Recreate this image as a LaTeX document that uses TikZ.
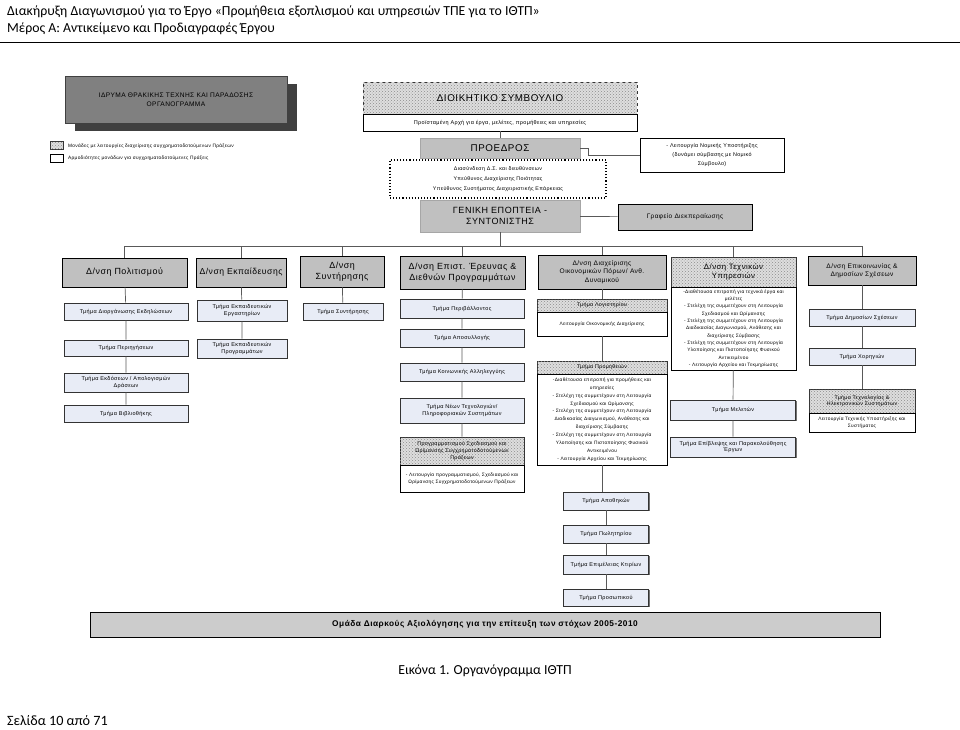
\documentclass[tikz,border=0pt]{standalone}
\usepackage{fontspec}
\setmainfont{Liberation Sans}
\newfontfamily\docfont{Carlito}
\newfontfamily\chartfont[LetterSpace=6]{Liberation Sans}
\usepackage{tikz}
\usetikzlibrary{calc,patterns,shadows}

\definecolor{dirgray}{RGB}{192,192,192}
\definecolor{deptfill}{RGB}{232,236,246}
\definecolor{titlegray}{RGB}{128,128,128}

\tikzset{
  link/.style={draw=black!65, line width=0.7pt},
  sz/.style 2 args={minimum width=#1pt, minimum height=#2pt},
  dirbox/.style={draw=black, line width=0.7pt, fill=dirgray, align=center, inner sep=1pt,
    font=\chartfont\fontsize{8.9}{10.5}\selectfont},
  deptbox/.style={draw=black!80, line width=0.8pt, fill=deptfill, align=center, inner sep=1pt,
    font=\chartfont\fontsize{5.5}{6.8}\selectfont,
    drop shadow={shadow xshift=1.1pt, shadow yshift=-1.1pt, fill=black!55, opacity=1}},
  dotbox/.style={draw=black!80, line width=0.6pt, fill=black!13, align=center, inner sep=1pt,
    postaction={pattern=crosshatch dots, pattern color=black!45},
    font=\chartfont\fontsize{5.3}{6.6}\selectfont},
  notebox/.style={draw=black, line width=0.6pt, fill=white, align=center, inner sep=1pt,
    font=\chartfont\fontsize{4.8}{7.3}\selectfont},
}

\begin{document}
\begin{tikzpicture}[x=1pt,y=-1pt]
\useasboundingbox (0,0) rectangle (960,729);

% page header
\node[anchor=west, inner sep=0, font=\docfont\fontsize{13.8}{15}\selectfont] (hdra) at (7,12)
  {Διακήρυξη Διαγωνισμού για το Έργο «Προμήθεια εξοπλισμού και υπηρεσιών ΤΠΕ για το ΙΘΤΠ»};
\node[anchor=west, inner sep=0, font=\docfont\fontsize{13.8}{15}\selectfont] (hdrb) at (7,29)
  {Μέρος Α: Αντικείμενο και Προδιαγραφές Έργου};
\draw[line width=0.5pt] (0,42) -- (960,42);

% title and legend
\node[draw=black!75, line width=1pt, fill=titlegray, sz={222}{47}, align=center,
  font=\chartfont\fontsize{6.6}{9}\selectfont,
  drop shadow={shadow xshift=10pt, shadow yshift=-8pt, fill=black!75, opacity=1}] (title) at (176,99.5)
  {ΙΔΡΥΜΑ ΘΡΑΚΙΚΗΣ ΤΕΧΝΗΣ ΚΑΙ ΠΑΡΑΔΟΣΗΣ\\ΟΡΓΑΝΟΓΡΑΜΜΑ};
\node[dotbox, sz={13}{8}, inner sep=0] (legdot) at (56.5,145.5) {};
\node[anchor=west, inner sep=0, font=\chartfont\fontsize{4.8}{5}\selectfont] (legdottxt) at (68,146)
  {Μονάδες με λειτουργίες διαχείρισης συγχρηματοδοτούμενων Πράξεων};
\node[notebox, sz={13}{8}, inner sep=0] (legwht) at (56.5,158) {};
\node[anchor=west, inner sep=0, font=\chartfont\fontsize{4.8}{5}\selectfont] (legwhttxt) at (68,158.5)
  {Αρμοδιότητες μονάδων για συγχρηματοδοτούμενες Πράξεις};

% board, president, supervision
\node[dotbox, dashed, sz={274}{32}, font=\chartfont\fontsize{9.8}{11}\selectfont] (board) at (500,98) {ΔΙΟΙΚΗΤΙΚΟ ΣΥΜΒΟΥΛΙΟ};
\node[notebox, sz={274}{17}, font=\chartfont\fontsize{5.5}{6.5}\selectfont] (boardnote) at (500,122.5)
  {Προϊσταμένη Αρχή για έργα, μελέτες, προμήθειες και υπηρεσίες};
\node[draw=black!35, fill=dirgray, sz={160}{20}, font=\chartfont\fontsize{9.8}{11}\selectfont] (pres) at (500,148) {ΠΡΟΕΔΡΟΣ};
\node[draw=black, line width=1.1pt, dotted, fill=white, sz={216}{38}, align=center,
  font=\chartfont\fontsize{5.3}{9.6}\selectfont] (liaison) at (498,179)
  {Διασύνδεση Δ.Σ. και διευθύνσεων\\Υπεύθυνος Διαχείρισης Ποιότητας\\Υπεύθυνος Συστήματος Διαχειριστικής Επάρκειας};
\node[notebox, sz={144}{34}, font=\chartfont\fontsize{5.4}{9}\selectfont] (legal) at (712,155)
  {- Λειτουργία Νομικής Υποστήριξης\\(δυνάμει σύμβασης με Νομικό\\Σύμβουλο)};
\node[draw=black!35, fill=dirgray, sz={160}{32}, align=center, font=\chartfont\fontsize{9}{11}\selectfont] (gen) at (500,216)
  {ΓΕΝΙΚΗ ΕΠΟΠΤΕΙΑ -\\ΣΥΝΤΟΝΙΣΤΗΣ};
\node[dirbox, sz={134}{26}, font=\chartfont\fontsize{6.5}{8}\selectfont] (office) at (685,217) {Γραφείο Διεκπεραίωσης};

\draw[link] (boardnote) -- (pres);
\draw[link] (liaison) -- (gen);
\draw[link] (pres.east) -- ++(8,0) |- (legal.west);
\draw[link] (gen) -- (office);

% directorates
\node[dirbox, sz={125}{29}] (dpol) at (124.5,272.5) {Δ/νση Πολιτισμού};
\node[dirbox, sz={90}{29}, font=\chartfont\fontsize{8.6}{10.5}\selectfont] (dedu) at (241,272.5) {Δ/νση Εκπαίδευσης};
\node[dirbox, sz={84}{31}] (dsyn) at (342,271.5) {Δ/νση\\Συντήρησης};
\node[dirbox, sz={125}{33}] (dres) at (462.5,272.5) {Δ/νση Επιστ. Έρευνας \&\\Διεθνών Προγραμμάτων};
\node[dirbox, sz={128}{34}, font=\chartfont\fontsize{6.6}{8.4}\selectfont] (dfin) at (602,272)
  {Δ/νση Διαχείρισης\\Οικονομικών Πόρων/ Ανθ.\\Δυναμικού};
\node[dotbox, sz={125}{30}, font=\chartfont\fontsize{7.8}{9.6}\selectfont] (dtec) at (733.5,272) {Δ/νση Τεχνικών\\Υπηρεσιών};
\node[dirbox, sz={108}{29}, font=\chartfont\fontsize{6.6}{8.4}\selectfont] (dcom) at (862,270.5)
  {Δ/νση Επικοινωνίας \&\\Δημοσίων Σχέσεων};
\node[notebox, sz={125}{83}] (dtecnote) at (733.5,328.5)
  {-Διαθέτουσα επιτροπή για τεχνικά έργα και\\μελέτες\\
   - Στελέχη της συμμετέχουν στη Λειτουργία\\Σχεδιασμού και Ωρίμανσης\\
   - Στελέχη της συμμετέχουν στη Λειτουργία\\Διαδικασίας Διαγωνισμού, Ανάθεσης και\\διαχείρισης Σύμβασης\\
   - Στελέχη της συμμετέχουν στη Λειτουργία\\Υλοποίησης και Πιστοποίησης Φυσικού\\Αντικειμένου\\
   - Λειτουργία Αρχείου και Τεκμηρίωσης};

\coordinate (busl) at (124.5,246);
\coordinate (busr) at (862,246);
\draw[link] (busl) -- (busr);
\draw[link] (gen.south) -- (gen.south |- busl);
\foreach \d in {dpol,dedu,dsyn,dres,dfin,dtec,dcom}
  \draw[link] (\d.north) -- (\d.north |- busl);

% departments, culture
\node[deptbox, sz={124}{17}] (tevent) at (126,311.5) {Τμήμα Διοργάνωσης Εκδηλώσεων};
\node[deptbox, sz={124}{16}] (ttour) at (126,348) {Τμήμα Περιηγήσεων};
\node[deptbox, sz={124}{19}] (tpubl) at (126,382.5) {Τμήμα Εκδόσεων / Απολογισμών\\Δράσεων};
\node[deptbox, sz={124}{17}] (tlib) at (126,413.5) {Τμήμα Βιβλιοθήκης};
\draw[link] (dpol) -- (tevent) -- (ttour) -- (tpubl) -- (tlib);

% departments, education
\node[deptbox, sz={90}{21}] (tworks) at (242,310.5) {Τμήμα Εκπαιδευτικών\\Εργαστηρίων};
\node[deptbox, sz={90}{19}] (tprogs) at (242,348.5) {Τμήμα Εκπαιδευτικών\\Προγραμμάτων};
\draw[link] (dedu) -- (tworks) -- (tprogs);

% departments, conservation
\node[deptbox, sz={80}{17}] (tcons) at (343,311.5) {Τμήμα Συντήρησης};
\draw[link] (dsyn) -- (tcons);

% departments, research
\node[deptbox, sz={124}{19}] (tenv) at (462,308.5) {Τμήμα Περιβάλλοντος};
\node[deptbox, sz={124}{18}] (tcoll) at (462,338) {Τμήμα Αποσυλλογής};
\node[deptbox, sz={124}{18}] (tsoc) at (462,372) {Τμήμα Κοινωνικής Αλληλεγγύης};
\node[deptbox, sz={124}{25}] (ttech) at (462,410.5) {Τμήμα Νέων Τεχνολογιών/\\Πληροφοριακών Συστημάτων};
\node[dotbox, sz={124}{28}] (tplan) at (462,451) {Προγραμματισμού Σχεδιασμού και\\Ωρίμανσης Συγχρηματοδοτούμενων\\Πράξεων};
\node[notebox, sz={124}{27}, font=\chartfont\fontsize{4.8}{7.5}\selectfont] (tplannote) at (462,478.5)
  {- Λειτουργία προγραμματισμού, Σχεδιασμού και\\Ωρίμανσης Συγχρηματοδοτούμενων Πράξεων};
\draw[link] (dres) -- (tenv) -- (tcoll) -- (tsoc) -- (ttech) -- (tplan);

% departments, finance
\node[dotbox, sz={130}{13}] (tacc) at (602,305.5) {Τμήμα Λογιστηρίου};
\node[notebox, sz={130}{24}] (taccnote) at (602,324) {Λειτουργία Οικονομικής Διαχείρισης};
\node[dotbox, sz={130}{13}] (tsupp) at (602,367.5) {Τμήμα Προμηθειών};
\node[notebox, sz={130}{91}, font=\chartfont\fontsize{4.8}{7.9}\selectfont] (tsuppnote) at (602,419.5)
  {-Διαθέτουσα επιτροπή για προμήθειες και\\υπηρεσίες\\
   - Στελέχη της συμμετέχουν στη Λειτουργία\\Σχεδιασμού και Ωρίμανσης\\
   - Στελέχη της συμμετέχουν στη Λειτουργία\\Διαδικασίας Διαγωνισμού, Ανάθεσης και\\διαχείρισης Σύμβασης\\
   - Στελέχη της συμμετέχουν στη Λειτουργία\\Υλοποίησης και Πιστοποίησης Φυσικού\\Αντικειμένου\\
   - Λειτουργία Αρχείου και Τεκμηρίωσης};
\node[deptbox, sz={85}{18}] (tstore) at (606,501) {Τμήμα Αποθηκών};
\node[deptbox, sz={85}{18}] (tshop) at (606,534) {Τμήμα Πωλητηρίου};
\node[deptbox, sz={85}{19}] (tbuild) at (606,564.5) {Τμήμα Επιμέλειας Κτιρίων};
\node[deptbox, sz={85}{17}] (tstaff) at (606,597.5) {Τμήμα Προσωπικού};
\draw[link] (dfin) -- (tacc);
\draw[link] (taccnote) -- (tsupp);
\draw[link] (tsuppnote.south) -- (tsuppnote.south |- tstore.north);
\draw[link] (tstore) -- (tshop) -- (tbuild) -- (tstaff);

% departments, technical services
\node[deptbox, sz={125}{20}] (tstud) at (733,410) {Τμήμα Μελετών};
\node[deptbox, sz={125}{20}] (tsuper) at (733,447) {Τμήμα Επίβλεψης και Παρακολούθησης\\Έργων};
\draw[link] (dtecnote) -- (tstud) -- (tsuper);

% departments, communication
\node[deptbox, sz={106}{17}] (tpr) at (862,317.5) {Τμήμα Δημοσίων Σχέσεων};
\node[deptbox, sz={106}{17}] (tspon) at (862,356.5) {Τμήμα Χορηγιών};
\node[dotbox, sz={106}{24}] (tict) at (862,401) {Τμήμα Τεχνολογίας \&\\Ηλεκτρονικών Συστημάτων};
\node[notebox, sz={106}{19}, font=\chartfont\fontsize{4.8}{6.5}\selectfont] (tictnote) at (862,422.5)
  {Λειτουργία Τεχνικής Υποστήριξης και\\Συστήματος};
\draw[link] (dcom) -- (tpr) -- (tspon) -- (tict);

% evaluation team
\node[draw=black, line width=0.9pt, fill=black!20, sz={790}{25},
  font=\chartfont\fontsize{8.3}{9}\bfseries\selectfont] (team) at (485,624.5)
  {Ομάδα Διαρκούς Αξιολόγησης για την επίτευξη των στόχων 2005-2010};

% caption and footer
\node[inner sep=0, font=\docfont\fontsize{13.8}{15}\selectfont] (caption) at (485,671) {Εικόνα 1. Οργανόγραμμα ΙΘΤΠ};
\node[anchor=west, inner sep=0, font=\docfont\fontsize{14.2}{15}\selectfont] (footer) at (7,721) {Σελίδα 10 από 71};
\end{tikzpicture}
\end{document}
